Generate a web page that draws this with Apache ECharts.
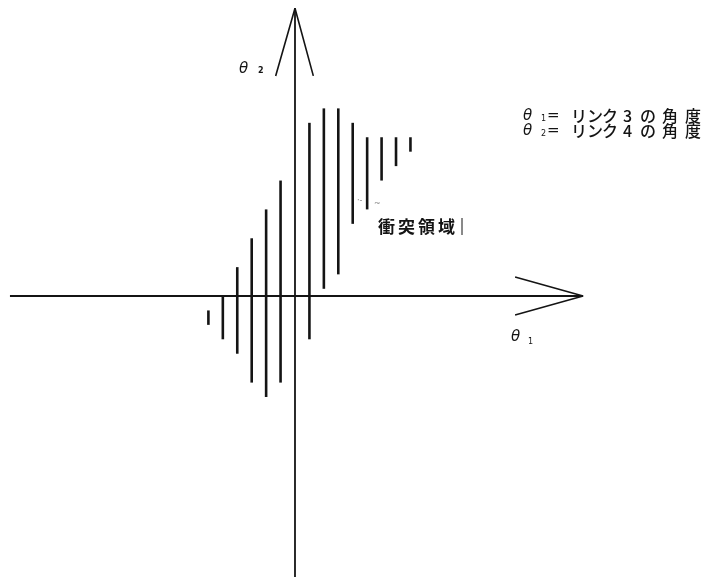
<!DOCTYPE html>
<html>
<head>
<meta charset="utf-8">
<script src="https://cdn.jsdelivr.net/npm/echarts@6/dist/echarts.min.js"></script>
<style>
html,body{margin:0;padding:0;background:#fff;}
#chart{width:704px;height:577px;}
</style>
</head>
<body>
<div id="chart"></div>
<script>
// θ1 positions (hatch index) of the collision-region strokes
const theta1Idx = [-6, -5, -4, -3, -2, -1, 1, 2, 3, 4, 5, 6, 7, 8];
// lower and upper θ2 ends of each stroke
const theta2Low  = [-2, -3, -4, -6, -7, -6, -3, 0.5, 1.5, 5, 6, 8, 9, 10];
const theta2High = [-1,  0,  2,  4,  6,  8, 12, 13, 13, 12, 11, 11, 11, 11];

// axes and open arrow heads (data units)
const hAxisLine  = [[-19.75, 0], [19.96, 0]];
const vAxisLine  = [[0, -20.5], [0, 19.94]];
const hArrowHead = [[15.25, 1.32], [19.96, 0], [15.25, -1.32]];
const vArrowHead = [[-1.34, 15.25], [0, 19.94], [1.27, 15.25]];

// texts
const legendLine1 = ['θ', '1', '=', 'リ', 'ン', 'ク', '3', 'の', '角', '度'];
const legendLine2 = ['θ', '2', '=', 'リ', 'ン', 'ク', '4', 'の', '角', '度'];
const regionLabel = ['衝', '突', '領', '域'];

const X_MIN = -20.44, X_MAX = 28.34, Y_MIN = -19.47, Y_MAX = 20.51;

const chart = echarts.init(document.getElementById('chart'), null, {renderer: 'canvas'});

const INK = '#141414';
const CJK = '"Noto Sans CJK JP", "Noto Sans CJK SC", sans-serif';
const GREEK = '"DejaVu Sans", sans-serif';

function txt(str, x, y, size, opts) {
  opts = opts || {};
  return {
    type: 'text', x: x, y: y, silent: true,
    style: {
      text: str, fill: opts.fill || INK,
      font: (opts.italic ? 'italic ' : '') + (opts.weight || 'normal') + ' ' + size + 'px ' + (opts.family || CJK),
      textVerticalAlign: 'middle', textAlign: 'left'
    }
  };
}

const graphics = [];
// legend lines
const legendX = [523, 541, 547, 571, 587, 602, 623, 640, 662, 685];
function addLegend(chars, yc) {
  chars.forEach((c, i) => {
    if (i === 0) graphics.push(txt(c, legendX[i], yc, 15, {italic: true, family: GREEK}));
    else if (i === 1) graphics.push(txt(c, legendX[i], yc + 3, 8, {family: GREEK}));
    else if (i === 2) graphics.push(txt(c, legendX[i], yc, 15, {family: GREEK}));
    else graphics.push(txt(c, legendX[i], yc, 16, {weight: 500}));
  });
}
addLegend(legendLine1, 116);
addLegend(legendLine2, 131);

// region label
regionLabel.forEach((c, i) => graphics.push(txt(c, 378 + i * 20, 227, 17, {weight: 'bold'})));
graphics.push({type: 'line', silent: true, shape: {x1: 462, y1: 218, x2: 462, y2: 235}, style: {stroke: INK, lineWidth: 1}});
// small specks
graphics.push(txt('·-', 357, 201, 8, {fill: '#888', family: GREEK}));
graphics.push(txt('~', 374, 204, 8, {fill: '#888', family: GREEK}));

// axis labels
graphics.push(txt('θ', 239, 69, 15, {italic: true, family: GREEK}));
graphics.push(txt('2', 258, 71, 8, {family: GREEK, weight: 'bold'}));
graphics.push(txt('θ', 511, 337, 15, {italic: true, family: GREEK}));
graphics.push(txt('1', 528, 342, 8, {family: GREEK}));

function lineSeries(data, width) {
  return {
    type: 'line', data: data, symbol: 'none', silent: true, animation: false,
    lineStyle: {color: INK, width: width}, z: 3
  };
}

const option = {
  backgroundColor: '#ffffff',
  animation: false,
  grid: {left: 0, top: 0, width: 704, height: 577, containLabel: false},
  xAxis: {type: 'value', min: X_MIN, max: X_MAX, show: false},
  yAxis: {type: 'value', min: Y_MIN, max: Y_MAX, show: false},
  series: [
    lineSeries(hAxisLine, 2),
    lineSeries(vAxisLine, 1.8),
    lineSeries(hArrowHead, 1.6),
    lineSeries(vArrowHead, 1.6),
    {
      type: 'custom', silent: true, animation: false, z: 4,
      data: theta1Idx.map((k, i) => [k, theta2Low[i], theta2High[i]]),
      renderItem: function (params, api) {
        const p1 = api.coord([api.value(0), api.value(1)]);
        const p2 = api.coord([api.value(0), api.value(2)]);
        return {
          type: 'line',
          shape: {x1: p1[0], y1: p1[1], x2: p2[0], y2: p2[1]},
          style: {stroke: INK, lineWidth: 2.6}
        };
      }
    }
  ],
  graphic: graphics
};
chart.setOption(option);
</script>
</body>
</html>
